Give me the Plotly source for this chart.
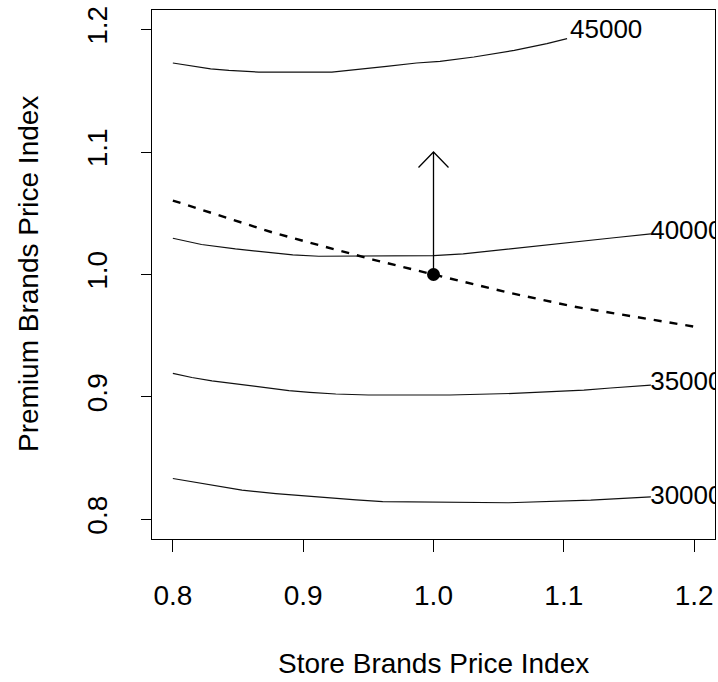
import plotly.graph_objects as go

# ---- data ----
c30000_x = [0.800, 0.8146, 0.830, 0.853, 0.879, 0.902, 0.920, 0.9406, 0.961, 1.0126, 1.0575, 1.1206, 1.1513, 1.1668]
c30000_y = [0.8334, 0.8307, 0.8280, 0.8239, 0.8211, 0.8190, 0.8173, 0.8159, 0.8146, 0.8138, 0.8136, 0.8157, 0.8178, 0.8184]

c35000_x = [0.800, 0.8146, 0.830, 0.848, 0.866, 0.889, 0.905, 0.925, 0.950, 1.0126, 1.0614, 1.0922, 1.1154, 1.1359, 1.1539, 1.1668]
c35000_y = [0.9192, 0.9159, 0.9132, 0.9106, 0.9078, 0.9051, 0.9037, 0.9024, 0.9016, 0.9016, 0.9029, 0.9043, 0.9056, 0.9073, 0.9089, 0.9097]

c40000_x = [0.800, 0.822, 0.848, 0.874, 0.892, 0.912, 0.943, 1.000, 1.0228, 1.0614, 1.100, 1.1385, 1.1668]
c40000_y = [1.0296, 1.0245, 1.0209, 1.0177, 1.0160, 1.0149, 1.0152, 1.0154, 1.0168, 1.0210, 1.0255, 1.0300, 1.0332]

c45000_x = [0.800, 0.817, 0.829, 0.843, 0.866, 0.922, 0.948, 0.964, 0.987, 1.005, 1.031, 1.062, 1.087, 1.1025]
c45000_y = [1.1727, 1.1700, 1.1680, 1.1667, 1.1653, 1.1653, 1.1680, 1.1700, 1.1727, 1.1740, 1.1776, 1.1830, 1.1886, 1.1926]

contour_levels = ["30000", "35000", "40000", "45000"]
label_x = [1.194, 1.194, 1.194, 1.1325]
label_y = [0.8180, 0.9112, 1.0340, 1.1985]

dash_x = [0.800, 0.876, 0.902, 0.9534, 1.000, 1.0563, 1.1076, 1.159, 1.200]
dash_y = [1.0604, 1.0345, 1.0269, 1.0122, 1.0000, 0.9855, 0.9738, 0.9645, 0.9574]

point_x = [1.0]
point_y = [1.0]
arrow_end_y = 1.1

x_ticks = [0.8, 0.9, 1.0, 1.1, 1.2]
x_ticklabels = ["0.8", "0.9", "1.0", "1.1", "1.2"]
y_ticks = [0.8, 0.9, 1.0, 1.1, 1.2]
y_ticklabels = ["0.8", "0.9", "1.0", "1.1", "1.2"]

x_title = "Store Brands Price Index"
y_title = "Premium Brands Price Index"

# ---- layout constants ----
W, H = 718, 682
ML, MR, MT, MB = 152, 3, 10, 143
RANGE = [0.784, 1.216]
FONT = "Liberation Sans, Arial, Helvetica, sans-serif"

px_per_x = (W - ML - MR) / (RANGE[1] - RANGE[0])
px_per_y = (H - MT - MB) / (RANGE[1] - RANGE[0])

fig = go.Figure()

for cx, cy in [(c30000_x, c30000_y), (c35000_x, c35000_y), (c40000_x, c40000_y), (c45000_x, c45000_y)]:
    fig.add_trace(go.Scatter(x=cx, y=cy, mode="lines",
                             line=dict(color="#111111", width=1.2),
                             hoverinfo="skip", showlegend=False))

fig.add_trace(go.Scatter(x=label_x, y=label_y, mode="text", text=contour_levels,
                         textposition="middle center",
                         textfont=dict(family=FONT, size=26, color="black"),
                         cliponaxis=True, hoverinfo="skip", showlegend=False))

fig.add_trace(go.Scatter(x=dash_x, y=dash_y, mode="lines",
                         line=dict(color="black", width=2.4, dash="8px,8px"),
                         hoverinfo="skip", showlegend=False))

# arrow shaft + open head (head size given in pixels)
ax0, ay0, ay1 = point_x[0], point_y[0], arrow_end_y
hw, hl = 15 / px_per_x, 15.5 / px_per_y
fig.add_trace(go.Scatter(x=[ax0, ax0, None, ax0 - hw, ax0, ax0 + hw],
                         y=[ay0, ay1, None, ay1 - hl, ay1, ay1 - hl],
                         mode="lines", line=dict(color="black", width=1.3),
                         hoverinfo="skip", showlegend=False))

fig.add_trace(go.Scatter(x=point_x, y=point_y, mode="markers",
                         marker=dict(color="black", size=13, symbol="circle"),
                         hoverinfo="skip", showlegend=False))

axis_common = dict(range=RANGE, showgrid=False, zeroline=False,
                   showline=True, linecolor="black", linewidth=1, mirror=True,
                   ticks="outside", tickcolor="black", tickwidth=1,
                   tickfont=dict(family=FONT, size=28, color="black"))

fig.update_xaxes(tickvals=x_ticks, ticktext=x_ticklabels, ticklen=12,
                 ticklabelstandoff=19, **axis_common)
fig.update_yaxes(tickvals=y_ticks, ticktext=y_ticklabels, ticklen=10, tickangle=-90,
                 ticklabelstandoff=23, **axis_common)

plot_w = W - ML - MR
plot_h = H - MT - MB
fig.add_annotation(text=x_title, xref="paper", yref="paper",
                   x=0.5, y=-(663 - (H - MB)) / plot_h,
                   xanchor="center", yanchor="middle", showarrow=False,
                   font=dict(family=FONT, size=28, color="black"))
fig.add_annotation(text=y_title, xref="paper", yref="paper",
                   x=-(ML - 28.5) / plot_w, y=0.5, textangle=-90,
                   xanchor="center", yanchor="middle", showarrow=False,
                   font=dict(family=FONT, size=28, color="black"))

fig.update_layout(width=W, height=H, margin=dict(l=ML, r=MR, t=MT, b=MB),
                  paper_bgcolor="white", plot_bgcolor="white", showlegend=False)

fig.write_html("out.html", config={"displayModeBar": False},
               post_script="document.body.style.margin='0px';")
